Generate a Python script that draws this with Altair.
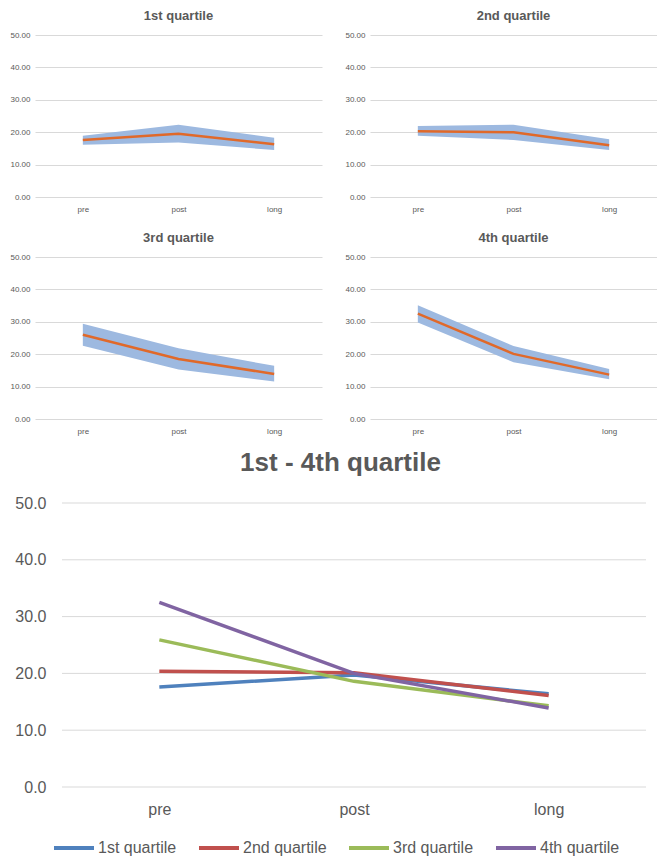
import altair as alt
import pandas as pd

categories = ["pre", "post", "long"]

q1_mean = [17.6, 19.5, 16.3]
q1_low = [16.1, 16.8, 14.5]
q1_high = [18.9, 22.3, 18.3]

q2_mean = [20.3, 20.0, 16.0]
q2_low = [18.9, 17.6, 14.5]
q2_high = [21.9, 22.3, 17.8]

q3_mean = [26.0, 18.5, 13.9]
q3_low = [22.6, 15.3, 11.6]
q3_high = [29.4, 21.8, 16.4]

q4_mean = [32.5, 20.1, 13.7]
q4_low = [29.8, 17.5, 12.3]
q4_high = [35.1, 22.5, 15.4]

all_q1 = [17.6, 19.7, 16.4]
all_q2 = [20.4, 20.1, 16.1]
all_q3 = [25.9, 18.6, 14.3]
all_q4 = [32.5, 20.0, 13.9]

series_names = ["1st quartile", "2nd quartile", "3rd quartile", "4th quartile"]
series_colors = ["#4F81BD", "#C0504D", "#9BBB59", "#8064A2"]
y_ticks = [0, 10, 20, 30, 40, 50]

TXT = "#595959"
GRID = "#D9D9D9"
LABEL_FONT = "Liberation Sans"
TITLE_FONT = "Liberation Sans"


def panel(title, mean, low, high):
    df = pd.DataFrame({"cat": categories, "mean": mean, "low": low, "high": high})
    xaxis = alt.Axis(labelAngle=0, ticks=False, domain=False, labelFontSize=8,
                     labelColor=TXT, labelFont=LABEL_FONT, labelPadding=8)
    x = alt.X("cat:N", sort=categories, title=None, axis=xaxis)
    yscale = alt.Scale(domain=[0, 50])
    yaxis = alt.Axis(values=y_ticks, format=".2f", ticks=False, domain=False,
                     labelFontSize=8, labelColor=TXT, labelFont=LABEL_FONT, gridColor=GRID,
                     labelPadding=5, minExtent=27, maxExtent=27, labelOverlap=False)
    band = alt.Chart(df).mark_area(color="#9DB9E0", opacity=1).encode(
        x=x,
        y=alt.Y("low:Q", scale=yscale, axis=yaxis, title=None),
        y2="high:Q",
    )
    line = alt.Chart(df).mark_line(color="#E0692A", strokeWidth=2.5).encode(
        x=x,
        y=alt.Y("mean:Q", scale=yscale, axis=yaxis, title=None),
    )
    return alt.layer(band, line).properties(
        width=287, height=162,
        title=alt.TitleParams(title, fontSize=13, font=TITLE_FONT, fontWeight="bold",
                              color=TXT, offset=8),
    )


p1 = panel("1st quartile", q1_mean, q1_low, q1_high)
p2 = panel("2nd quartile", q2_mean, q2_low, q2_high)
p3 = panel("3rd quartile", q3_mean, q3_low, q3_high)
p4 = panel("4th quartile", q4_mean, q4_low, q4_high)

rows = []
for name, vals in zip(series_names, [all_q1, all_q2, all_q3, all_q4]):
    for c, v in zip(categories, vals):
        rows.append({"series": name, "cat": c, "value": v})
df_all = pd.DataFrame(rows)
df_grid = pd.DataFrame({"tick": y_ticks})

# Bottom view starts at the same left edge as the top panels' plots;
# the plotted region is inset by the x scale range.
BW = 611
bscale_y = alt.Scale(domain=[0, 50])
grid = alt.Chart(df_grid).mark_rule(color=GRID, strokeWidth=1).encode(
    y=alt.Y("tick:Q", scale=bscale_y, title=None,
            axis=alt.Axis(values=y_ticks, format=".1f", ticks=False, domain=False, grid=False,
                          labelFontSize=16, labelColor=TXT, labelFont=LABEL_FONT,
                          labelPadding=0, offset=-11, minExtent=27, maxExtent=27,
                          labelOverlap=False)),
    x=alt.value(27),
    x2=alt.value(BW),
)
lines = alt.Chart(df_all).mark_line(strokeWidth=3.5).encode(
    x=alt.X("cat:N", sort=categories, title=None, scale=alt.Scale(range=[27, BW]),
            axis=alt.Axis(labelAngle=0, ticks=False, domain=False, labelFontSize=16,
                          labelColor=TXT, labelFont=LABEL_FONT, labelPadding=14)),
    y=alt.Y("value:Q", scale=bscale_y, title=None),
    color=alt.Color("series:N", sort=series_names,
                    scale=alt.Scale(domain=series_names, range=series_colors),
                    legend=alt.Legend(orient="none", legendX=17, legendY=791,
                                      direction="horizontal", title=None,
                                      symbolType="stroke", symbolStrokeWidth=4, symbolSize=1600,
                                      labelFontSize=16, labelColor=TXT, labelFont=LABEL_FONT,
                                      columnPadding=14, labelOffset=2)),
    order=alt.Order("series:N"),
)
bottom = alt.layer(grid, lines).properties(
    width=BW, height=284,
    title=alt.TitleParams("1st - 4th quartile", fontSize=26, font=TITLE_FONT, fontWeight="bold",
                          color=TXT, offset=19),
)

top = alt.vconcat(alt.hconcat(p1, p2, spacing=21), alt.hconcat(p3, p4, spacing=21), spacing=19)
chart = alt.vconcat(top, bottom, spacing=15).properties(
    padding={"top": 2, "left": 0, "right": 0, "bottom": 0}
).configure_view(stroke=None)

chart.save("out.html", embed_options={"renderer": "svg", "actions": False})
